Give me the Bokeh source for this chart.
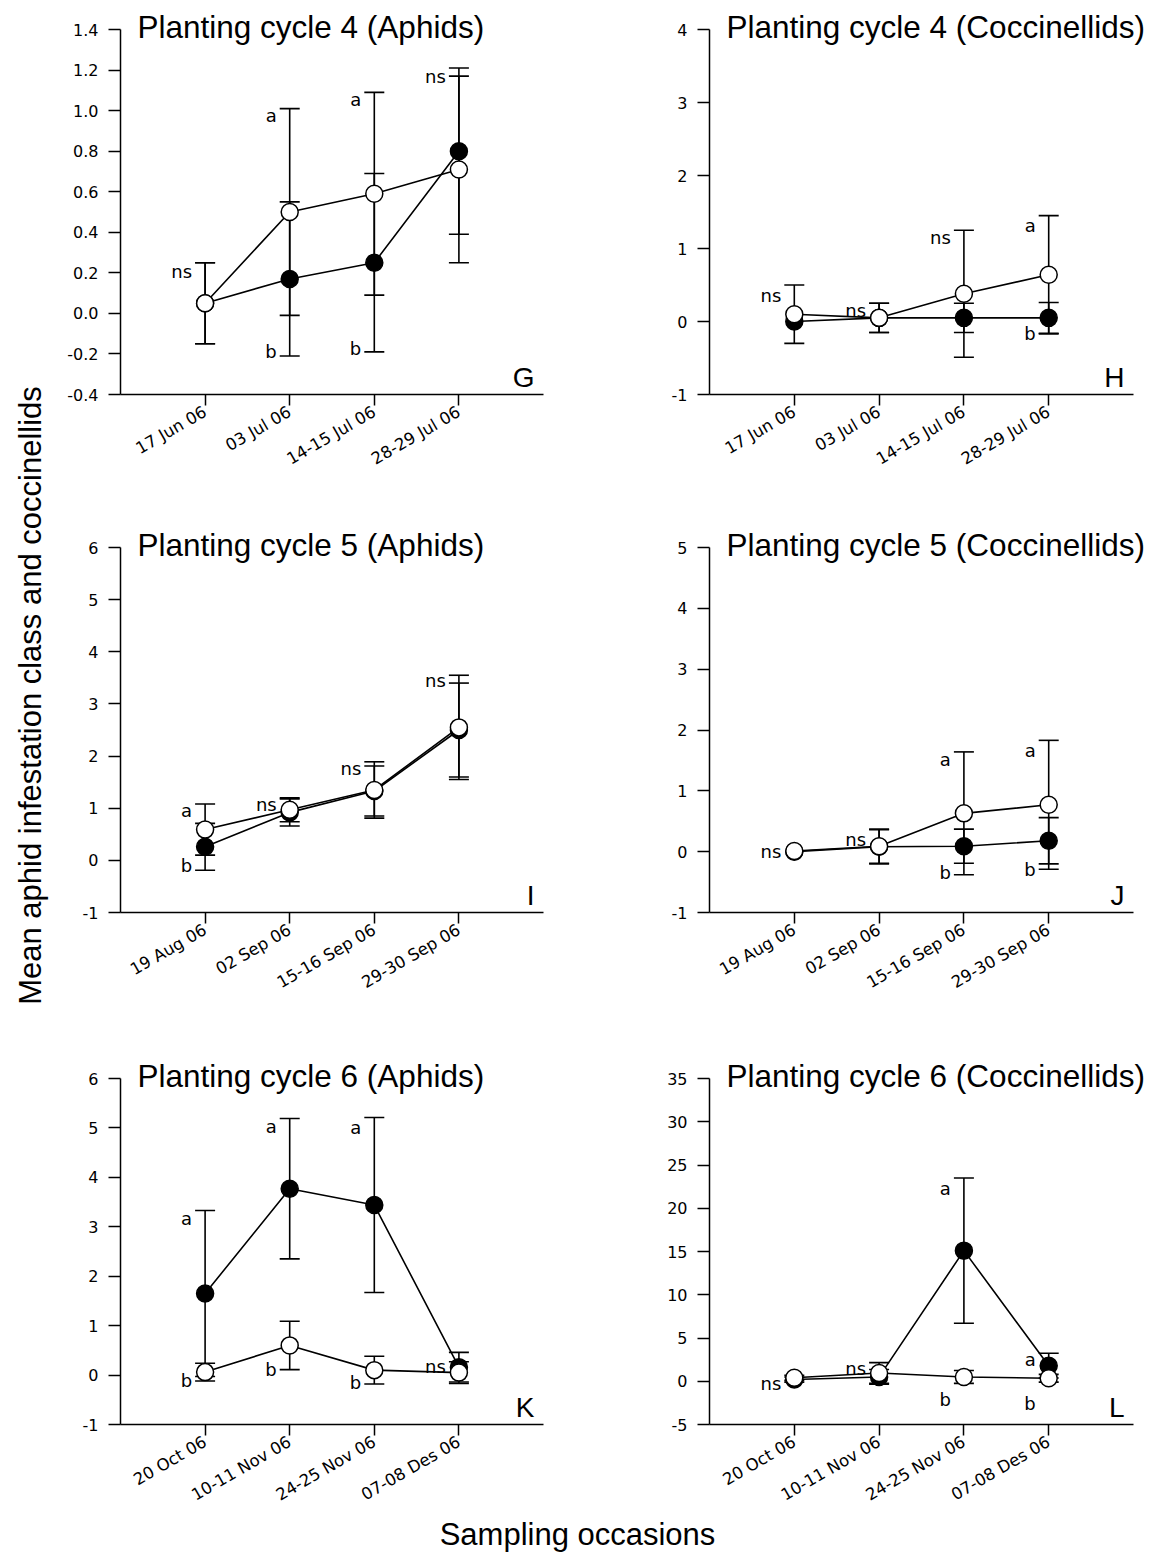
import math
from bokeh.plotting import figure
from bokeh.models import Range1d, FixedTicker, PrintfTickFormatter, Label
from bokeh.layouts import column, row
from bokeh.embed import file_html
from bokeh.resources import INLINE
from bokeh.core.properties import value

# ---------------- data ----------------
positions = [1, 2, 3, 4]
dates_c4 = ["17 Jun 06", "03 Jul 06", "14-15 Jul 06", "28-29 Jul 06"]
dates_c5 = ["19 Aug 06", "02 Sep 06", "15-16 Sep 06", "29-30 Sep 06"]
dates_c6 = ["20 Oct 06", "10-11 Nov 06", "24-25 Nov 06", "07-08 Des 06"]

# Panel G: cycle 4 aphids
g_black = [0.05, 0.17, 0.25, 0.80]
g_black_err = [0.20, 0.38, 0.44, 0.41]
g_white = [0.05, 0.50, 0.59, 0.71]
g_white_err = [0.20, 0.51, 0.50, 0.46]
g_ann_x = [1, 2, 2, 3, 3, 4]
g_ann_y = [0.205, 0.977, -0.19, 1.055, -0.173, 1.17]
g_ann_t = ["ns", "a", "b", "a", "b", "ns"]
g_ticks = [-0.4, -0.2, 0.0, 0.2, 0.4, 0.6, 0.8, 1.0, 1.2, 1.4]

# Panel H: cycle 4 coccinellids
h_black = [0.0, 0.05, 0.05, 0.05]
h_black_err = [0.0, 0.20, 0.20, 0.21]
h_white = [0.10, 0.05, 0.38, 0.64]
h_white_err = [0.40, 0.20, 0.87, 0.81]
h_ann_x = [1, 2, 3, 4, 4]
h_ann_y = [0.35, 0.15, 1.15, 1.32, -0.16]
h_ann_t = ["ns", "ns", "ns", "a", "b"]
h_ticks = [-1, 0, 1, 2, 3, 4]

# Panel I: cycle 5 aphids
i_black = [0.26, 0.92, 1.33, 2.50]
i_black_err = [0.45, 0.26, 0.48, 0.90]
i_white = [0.59, 0.97, 1.35, 2.55]
i_white_err = [0.49, 0.23, 0.54, 1.00]
i_ann_x = [1, 1, 2, 3, 4]
i_ann_y = [0.96, -0.095, 1.07, 1.76, 3.45]
i_ann_t = ["a", "b", "ns", "ns", "ns"]
i_ticks = [-1, 0, 1, 2, 3, 4, 5, 6]

# Panel J: cycle 5 coccinellids
j_black = [0.0, 0.08, 0.09, 0.18]
j_black_err = [0.0, 0.28, 0.28, 0.38]
j_white = [0.01, 0.09, 0.63, 0.77]
j_white_err = [0.0, 0.28, 1.01, 1.06]
j_ann_x = [1, 2, 3, 3, 4, 4]
j_ann_y = [0.0, 0.2, 1.51, -0.35, 1.67, -0.30]
j_ann_t = ["ns", "ns", "a", "b", "a", "b"]
j_ticks = [-1, 0, 1, 2, 3, 4, 5]

# Panel K: cycle 6 aphids
k_black = [1.65, 3.77, 3.44, 0.16]
k_black_err = [1.68, 1.42, 1.77, 0.30]
k_white = [0.06, 0.60, 0.10, 0.05]
k_white_err = [0.18, 0.49, 0.28, 0.22]
k_ann_x = [1, 1, 2, 2, 3, 3, 4]
k_ann_y = [3.16, -0.11, 5.02, 0.12, 5.0, -0.145, 0.17]
k_ann_t = ["a", "b", "a", "b", "a", "b", "ns"]
k_ticks = [-1, 0, 1, 2, 3, 4, 5, 6]

# Panel L: cycle 6 coccinellids
l_black = [0.2, 0.5, 15.1, 1.8]
l_black_err = [0.3, 0.85, 8.4, 1.43]
l_white = [0.4, 0.95, 0.5, 0.35]
l_white_err = [0.3, 1.2, 0.75, 0.45]
l_ann_x = [1, 2, 3, 3, 4, 4]
l_ann_y = [-0.23, 1.43, 22.3, -2.15, 2.47, -2.6]
l_ann_t = ["ns", "ns", "a", "b", "a", "b"]
l_ticks = [-5, 0, 5, 10, 15, 20, 25, 30, 35]

# ---------------- styling ----------------
TICK_FONT = "DejaVu Sans"
BIG_FONT = "Liberation Sans"
X_MAX = 5  # x axis spans 0..5, categories at 1..4


def make_panel(dates, yticks, yfmt, bm, be, wm, we, ax, ay, at, title, letter,
               width, height, bl, ax_len, top_pad, plot_len):
    ymin, ymax = yticks[0], yticks[-1]
    ppu_y = plot_len / (ymax - ymin)
    ppu_x = ax_len / X_MAX
    bb = height - top_pad - plot_len
    y_end = ymin + (height - bb) / ppu_y
    x_end = (width - bl) / ppu_x

    p = figure(width=width, height=height, output_backend="svg", toolbar_location=None,
               x_range=Range1d(0, x_end), y_range=Range1d(ymin, y_end),
               min_border_left=bl, min_border_right=0, min_border_top=0,
               min_border_bottom=bb)
    p.outline_line_color = None
    p.grid.visible = False
    p.background_fill_color = "white"
    p.border_fill_color = "white"

    # x axis
    xa = p.xaxis[0]
    xa.bounds = (0, X_MAX)
    xa.ticker = FixedTicker(ticks=positions)
    xa.major_label_overrides = {pos: d for pos, d in zip(positions, dates)}
    xa.major_label_orientation = math.pi / 6
    xa.major_tick_in = 0
    xa.major_tick_out = 11
    xa.minor_tick_out = 0
    xa.minor_tick_in = 0
    xa.axis_line_width = 1.5
    xa.major_tick_line_width = 1.5
    xa.major_label_text_font = TICK_FONT
    xa.major_label_text_font_size = "16.5px"
    xa.major_label_text_color = "black"
    xa.major_label_standoff = 5

    # y axis
    ya = p.yaxis[0]
    ya.bounds = (ymin, ymax)
    ya.ticker = FixedTicker(ticks=yticks)
    ya.formatter = PrintfTickFormatter(format=yfmt)
    ya.major_tick_in = 0
    ya.major_tick_out = 12
    ya.minor_tick_out = 0
    ya.minor_tick_in = 0
    ya.axis_line_width = 1.5
    ya.major_tick_line_width = 1.5
    ya.major_label_text_font = TICK_FONT
    ya.major_label_text_font_size = "16px"
    ya.major_label_text_color = "black"
    ya.major_label_standoff = 10

    # error bars (vertical lines + caps)
    for mean, err in ((bm, be), (wm, we)):
        xs = [x for x, e in zip(positions, err) if e > 0]
        lo = [m - e for m, e in zip(mean, err) if e > 0]
        hi = [m + e for m, e in zip(mean, err) if e > 0]
        p.segment(x0=xs, y0=lo, x1=xs, y1=hi, line_color="black", line_width=1.6)
        p.scatter(x=xs, y=lo, marker="dash", size=20, line_color="black", line_width=1.6)
        p.scatter(x=xs, y=hi, marker="dash", size=20, line_color="black", line_width=1.6)

    # lines
    p.line(x=positions, y=bm, line_color="black", line_width=1.6)
    p.line(x=positions, y=wm, line_color="black", line_width=1.6)
    # markers (black beneath white)
    p.scatter(x=positions, y=bm, marker="circle", size=17, fill_color="black",
              line_color="black", line_width=1.5)
    p.scatter(x=positions, y=wm, marker="circle", size=17, fill_color="white",
              line_color="black", line_width=1.5)

    # significance letters
    p.text(x=ax, y=ay, text=at, text_align="right", text_baseline="middle",
           x_offset=-13, text_font=value(TICK_FONT), text_font_size="18px",
           text_color="black")

    # panel title (vertical middle just above the top tick) and panel letter
    p.add_layout(Label(x=17 / ppu_x, y=ymax + 3 / ppu_y, text=title,
                       text_font=BIG_FONT, text_font_size="31.5px", text_color="black",
                       text_baseline="middle", text_align="left"))
    p.add_layout(Label(x=X_MAX - 9 / ppu_x, y=ymin + 17 / ppu_y, text=letter,
                       text_font=BIG_FONT, text_font_size="28px", text_color="black",
                       text_baseline="middle", text_align="right"))
    return p


LW, RW = 540, 561
pG = make_panel(dates_c4, g_ticks, "%.1f", g_black, g_black_err, g_white, g_white_err,
                g_ann_x, g_ann_y, g_ann_t, "Planting cycle 4 (Aphids)", "G",
                LW, 500, 60, 423, 29, 365)
pH = make_panel(dates_c4, h_ticks, "%d", h_black, h_black_err, h_white, h_white_err,
                h_ann_x, h_ann_y, h_ann_t, "Planting cycle 4 (Coccinellids)", "H",
                RW, 500, 109, 424, 29, 365)
pI = make_panel(dates_c5, i_ticks, "%d", i_black, i_black_err, i_white, i_white_err,
                i_ann_x, i_ann_y, i_ann_t, "Planting cycle 5 (Aphids)", "I",
                LW, 530, 60, 423, 47, 365)
pJ = make_panel(dates_c5, j_ticks, "%d", j_black, j_black_err, j_white, j_white_err,
                j_ann_x, j_ann_y, j_ann_t, "Planting cycle 5 (Coccinellids)", "J",
                RW, 530, 109, 424, 47, 365)
pK = make_panel(dates_c6, k_ticks, "%d", k_black, k_black_err, k_white, k_white_err,
                k_ann_x, k_ann_y, k_ann_t, "Planting cycle 6 (Aphids)", "K",
                LW, 485, 60, 423, 48, 346)
pL = make_panel(dates_c6, l_ticks, "%d", l_black, l_black_err, l_white, l_white_err,
                l_ann_x, l_ann_y, l_ann_t, "Planting cycle 6 (Coccinellids)", "L",
                RW, 485, 109, 424, 48, 346)

TOP_H = 500 + 530 + 485   # height of the panel grid
STRIP_H = 1552 - TOP_H    # bottom strip for the shared x title

# left strip with shared y-axis title
ys = figure(width=60, height=TOP_H, output_backend="svg", toolbar_location=None,
            x_range=Range1d(0, 60), y_range=Range1d(0, TOP_H),
            x_axis_type=None, y_axis_type=None, min_border=0)
ys.outline_line_color = None
ys.grid.visible = False
ys.add_layout(Label(x=30, y=TOP_H - 695, angle=math.pi / 2,
                    text="Mean aphid infestation class and coccinellids",
                    text_font=BIG_FONT, text_font_size="31px", text_color="black",
                    text_align="center", text_baseline="middle"))

# bottom strip with shared x-axis title
xs_ = figure(width=1161, height=STRIP_H, output_backend="svg", toolbar_location=None,
             x_range=Range1d(0, 1161), y_range=Range1d(0, STRIP_H),
             x_axis_type=None, y_axis_type=None, min_border=0)
xs_.outline_line_color = None
xs_.grid.visible = False
xs_.add_layout(Label(x=577, y=STRIP_H / 2, text="Sampling occasions",
                     text_font=BIG_FONT, text_font_size="31px", text_color="black",
                     text_align="center", text_baseline="middle"))

grid = column(row(pG, pH), row(pI, pJ), row(pK, pL))
layout = column(row(ys, grid), xs_)

open("out.html", "w").write(file_html(layout, INLINE))
